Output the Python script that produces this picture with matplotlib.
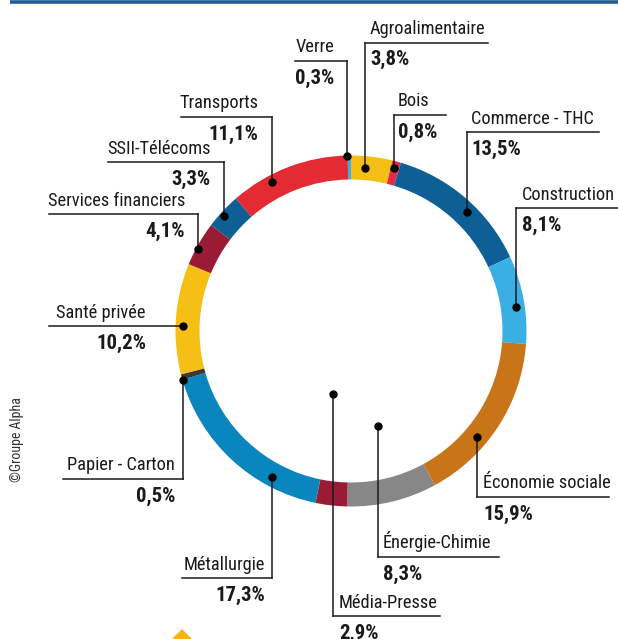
import matplotlib.pyplot as plt
from matplotlib import font_manager
from matplotlib.patches import Polygon

# pick a narrow face if one is installed
installed = font_manager.fontManager.ttflist
family, stretch, size = 'DejaVu Sans', 'normal', 10.5
for cand in ['Liberation Sans Narrow', 'Roboto Condensed', 'Open Sans Condensed']:
    if any(f.name == cand for f in installed):
        family, stretch, size = cand, 'normal', 13.2
        break
else:
    if any(f.name == 'DejaVu Sans' and str(f.stretch) in ('condensed', 'semi-condensed')
           for f in installed):
        family, stretch, size = 'DejaVu Sans', 'condensed', 12
    elif any(f.name == 'Roboto' and str(f.stretch) == 'condensed' for f in installed):
        family, stretch, size = 'Roboto', 'condensed', 13.2

plt.rcParams['font.family'] = [family, 'DejaVu Sans']
plt.rcParams['font.stretch'] = stretch
pct_size = size * 1.13

# share of each sector, clockwise from 12 o'clock
sectors = ['Agroalimentaire', 'Bois', 'Commerce - THC', 'Construction',
           'Économie sociale', 'Énergie-Chimie', 'Média-Presse', 'Métallurgie',
           'Papier - Carton', 'Santé privée', 'Services financiers',
           'SSII-Télécoms', 'Transports', 'Verre']
shares = [3.8, 0.8, 13.5, 8.1, 15.9, 8.3, 2.9, 17.3, 0.5, 10.2, 4.1, 3.3, 11.1, 0.3]
colors = ['#f5bf16', '#e42a4c', '#0e5f96', '#39afe3', '#c77518', '#878787',
          '#9a1b34', '#0a86be', '#3a3a3a', '#f5bf16', '#9a1b34', '#0e5f96',
          '#e42b33', '#39afe3']

# label placement in pixels: leader x, dot y, underline y, far end of underline, text x
# side 'r' = text to the right of the leader, 'l' = text to the left
layout = {
    'Agroalimentaire':     ('r', 365, 168, 42.5, 488, 370),
    'Bois':                ('r', 394, 168, 115, 446, 398),
    'Commerce - THC':      ('r', 467, 212, 132, 599, 471),
    'Construction':        ('r', 516, 307, 208, 618, 522),
    'Économie sociale':    ('r', 477, 437, 497, 609, 483),
    'Énergie-Chimie':      ('r', 378, 426, 557, 499, 383),
    'Média-Presse':        ('r', 333, 394, 616, 440, 339),
    'Verre':               ('l', 347, 156, 61, 295, 334),
    'Transports':          ('l', 272, 182, 117, 181, 258),
    'SSII-Télécoms':       ('l', 224, 216, 162, 108, 211),
    'Services financiers': ('l', 198, 249, 214, 49, 185),
    'Santé privée':        ('l', 183, 326, 326, 49, 146),
    'Papier - Carton':     ('l', 183, 380, 479, 63, 175),
    'Métallurgie':         ('l', 272, 477, 578, 182, 265),
}

W, H = 618, 639
fig = plt.figure(figsize=(W / 100, H / 100), dpi=100)
ax = fig.add_axes([0, 0, 1, 1])

ax.pie(shares, colors=colors, startangle=-90, counterclock=True,
       radius=175.5, center=(351, 331),
       wedgeprops=dict(width=24, linewidth=0))

ax.set_xlim(0, W)
ax.set_ylim(H, 0)
ax.set_aspect('equal')
ax.axis('off')

ink = '#1a1a1a'
for name, val in zip(sectors, shares):
    side, lx, dot_y, line_y, far_x, tx = layout[name]
    ax.plot([lx, lx], [dot_y, line_y], color=ink, lw=1.1, zorder=4)
    ax.plot([lx, far_x], [line_y, line_y], color=ink, lw=1.1, zorder=4)
    ax.plot(lx, dot_y, 'o', color='black', ms=5, zorder=5)
    ha = 'left' if side == 'r' else 'right'
    ax.text(tx, line_y - 8.5, name, ha=ha, va='baseline', fontsize=size, color=ink)
    pct = f'{val:.1f}'.replace('.', ',') + '%'
    ax.text(tx, line_y + 22.5, pct, ha=ha, va='baseline', fontsize=pct_size,
            fontweight='bold', color=ink)

# top rule
ax.plot([10, W], [1.5, 1.5], color='#1f5d98', lw=2.6, solid_capstyle='butt')

# credit
ax.text(17, 440, '©Groupe Alpha', rotation=90, ha='center', va='center',
        fontsize=size * 0.76, color='#333333')

# yellow marker peeking in at the bottom
ax.add_patch(Polygon([[182, 629], [193, 640], [182, 651], [171, 640]],
                     closed=True, color='#f4b417', lw=0))

fig.savefig('out.png', dpi=100)
